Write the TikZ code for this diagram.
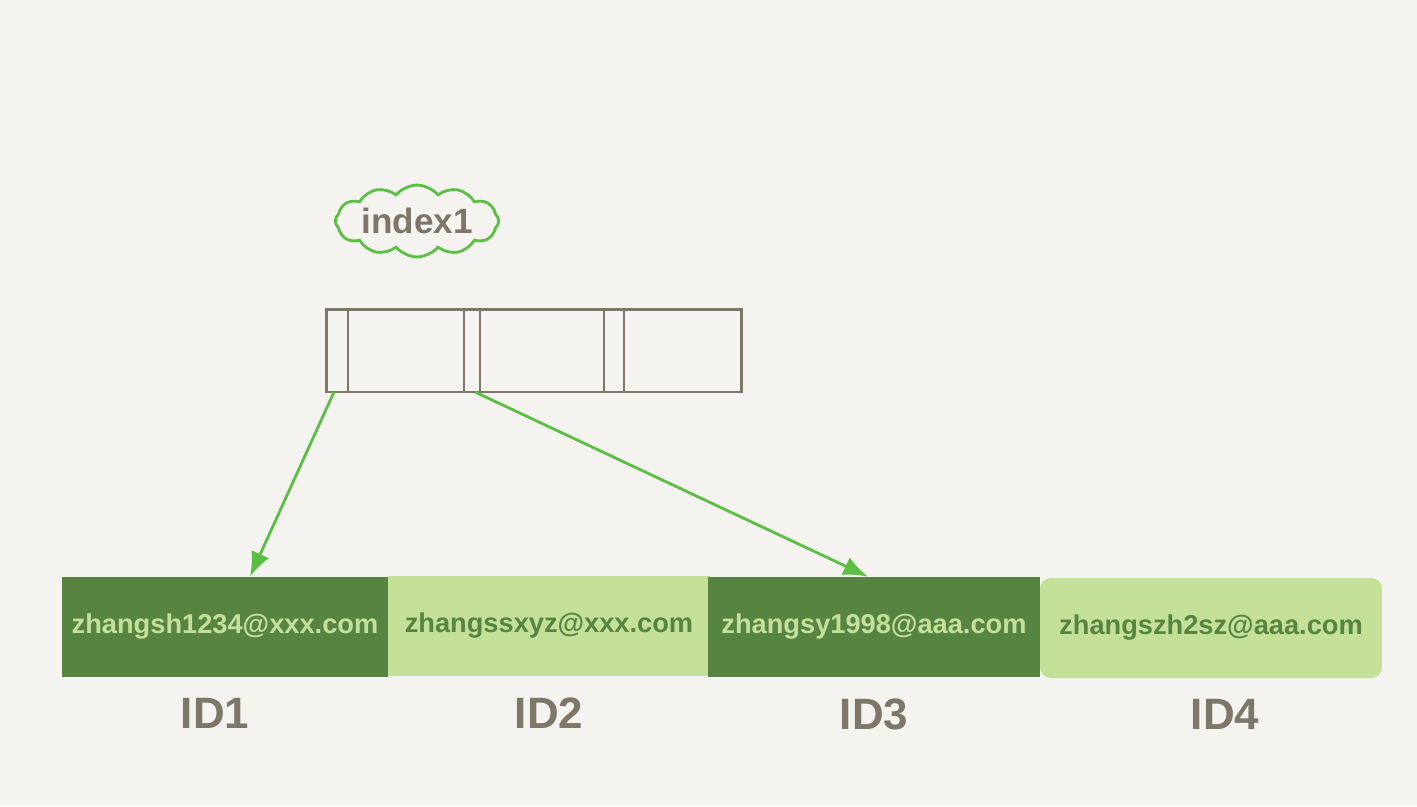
\documentclass[tikz,border=0pt]{standalone}
\usepackage{xcolor}
\usepackage{fontspec}
\setmainfont{Liberation Sans}
\usetikzlibrary{positioning,shapes.symbols,arrows.meta}

\definecolor{paper}{HTML}{F4F3EF}
\definecolor{pen}{HTML}{7D7669}
\definecolor{leaf}{HTML}{5CBF45}
\definecolor{darkcell}{HTML}{578541}
\definecolor{lightcell}{HTML}{C3DF98}

\tikzset{
    cell/.style={rectangle, inner sep=0pt, minimum height=2cm, font=\fontsize{15.5}{18}\bfseries\selectfont},
    darkbox/.style={cell, fill=darkcell, text=lightcell},
    lightbox/.style={cell, fill=lightcell, text=darkcell},
    idlabel/.style={text=pen, font=\fontsize{25}{28}\bfseries\selectfont},
    pointer/.style={leaf, line width=1.6pt, -{Latex[length=14pt,width=11pt]}}
}

\begin{document}
\begin{tikzpicture}[x=0.02cm, y=-0.02cm, node distance=0.3cm]
    % Canvas
    \fill[paper] (0,0) rectangle (1417,806);
    \useasboundingbox (0,0) rectangle (1417,806);

    % Index name
    \node[cloud, draw=leaf, line width=1.6pt, cloud puffs=12, cloud puff arc=100, aspect=3, minimum width=3.1cm, minimum height=1.1cm, inner sep=1pt, text=pen, font=\fontsize{20}{24}\bfseries\selectfont] (name) at (417,221) {index1};

    % Index page
    \node[rectangle, draw=pen, line width=1.7pt, minimum width=8.32cm, minimum height=1.66cm, inner sep=0pt] (page) at (534,350.5) {};
    \foreach \x in {348,464,480,604,624}
        \draw[pen, line width=1.7pt] (\x,309) -- (\x,392);

    % Data row
    \node[darkbox, minimum width=6.52cm] (c1) at (225,627) {zhangsh1234@xxx.com};
    \node[lightbox, minimum width=6.44cm] (c2) at (549,626) {zhangssxyz@xxx.com};
    \node[darkbox, minimum width=6.64cm] (c3) at (874,627) {zhangsy1998@aaa.com};
    \node[lightbox, minimum width=6.84cm, rounded corners=6pt] (c4) at (1211,628) {zhangszh2sz@aaa.com};

    % Row ids
    \node[idlabel, below=of c1, xshift=-0.2cm] (id1) {ID1};
    \node[idlabel, below=of c2] (id2) {ID2};
    \node[idlabel, below=of c3] (id3) {ID3};
    \node[idlabel, below=of c4, xshift=0.28cm] (id4) {ID4};

    % Pointers
    \coordinate (p1) at (334,392);
    \coordinate (p2) at (475,392);
    \coordinate (t1) at (250,577);
    \coordinate (t3) at (868,577);
    \draw[pointer] (p1) -- (t1 |- c1.north);
    \draw[pointer] (p2) -- (t3 |- c3.north);
\end{tikzpicture}
\end{document}
